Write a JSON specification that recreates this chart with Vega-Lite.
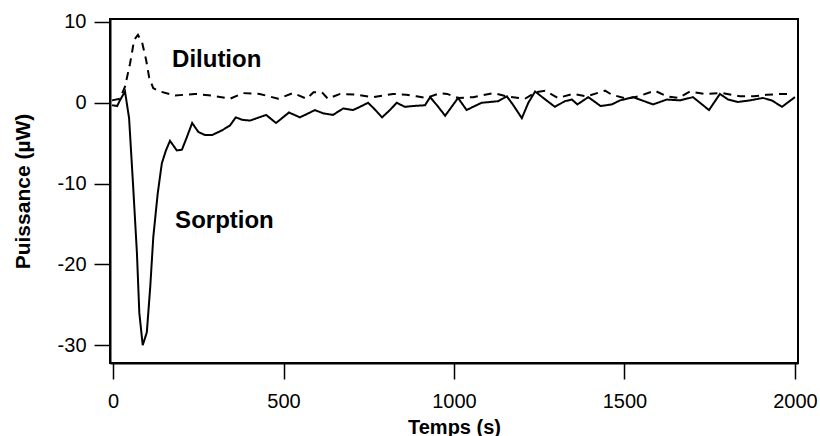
{
  "$schema": "https://vega.github.io/schema/vega-lite/v6.json",
  "autosize": "none",
  "width": 688,
  "height": 344,
  "padding": {"left": 110, "top": 19, "right": 22, "bottom": 73},
  "background": "white",
  "config": {
    "font": "Liberation Sans",
    "view": {"stroke": "black", "strokeWidth": 2},
    "axis": {
      "grid": false,
      "domainColor": "black",
      "domainWidth": 2,
      "tickColor": "black",
      "tickWidth": 1.5,
      "tickSize": 16,
      "labelFont": "Liberation Sans",
      "labelFontSize": 20,
      "labelColor": "black",
      "titleFont": "Liberation Sans",
      "titleFontSize": 20,
      "titleFontWeight": "bold",
      "titleColor": "black"
    }
  },
  "datasets": {
    "curves": [
      {"t": -3, "p": -0.3, "s": "Sorption"},
      {"t": 12, "p": -0.4, "s": "Sorption"},
      {"t": 20, "p": 0.3, "s": "Sorption"},
      {"t": 35, "p": 1.4, "s": "Sorption"},
      {"t": 47, "p": -1.9, "s": "Sorption"},
      {"t": 59, "p": -10.4, "s": "Sorption"},
      {"t": 70, "p": -18.6, "s": "Sorption"},
      {"t": 77, "p": -26, "s": "Sorption"},
      {"t": 87, "p": -30, "s": "Sorption"},
      {"t": 99, "p": -28.4, "s": "Sorption"},
      {"t": 109, "p": -22.8, "s": "Sorption"},
      {"t": 118, "p": -16.6, "s": "Sorption"},
      {"t": 131, "p": -11.2, "s": "Sorption"},
      {"t": 143, "p": -7.5, "s": "Sorption"},
      {"t": 155, "p": -5.9, "s": "Sorption"},
      {"t": 167, "p": -4.7, "s": "Sorption"},
      {"t": 187, "p": -5.9, "s": "Sorption"},
      {"t": 202, "p": -5.8, "s": "Sorption"},
      {"t": 216, "p": -4.3, "s": "Sorption"},
      {"t": 232, "p": -2.5, "s": "Sorption"},
      {"t": 250, "p": -3.6, "s": "Sorption"},
      {"t": 270, "p": -4.0, "s": "Sorption"},
      {"t": 290, "p": -4.0, "s": "Sorption"},
      {"t": 320, "p": -3.4, "s": "Sorption"},
      {"t": 343, "p": -2.8, "s": "Sorption"},
      {"t": 360, "p": -1.8, "s": "Sorption"},
      {"t": 378, "p": -2.1, "s": "Sorption"},
      {"t": 402, "p": -2.2, "s": "Sorption"},
      {"t": 422, "p": -1.9, "s": "Sorption"},
      {"t": 449, "p": -1.5, "s": "Sorption"},
      {"t": 478, "p": -2.5, "s": "Sorption"},
      {"t": 516, "p": -1.2, "s": "Sorption"},
      {"t": 548, "p": -1.8, "s": "Sorption"},
      {"t": 568, "p": -1.4, "s": "Sorption"},
      {"t": 592, "p": -0.9, "s": "Sorption"},
      {"t": 616, "p": -1.3, "s": "Sorption"},
      {"t": 645, "p": -1.5, "s": "Sorption"},
      {"t": 675, "p": -0.7, "s": "Sorption"},
      {"t": 704, "p": -0.9, "s": "Sorption"},
      {"t": 724, "p": -0.5, "s": "Sorption"},
      {"t": 748, "p": 0.0, "s": "Sorption"},
      {"t": 765, "p": -0.7, "s": "Sorption"},
      {"t": 789, "p": -1.8, "s": "Sorption"},
      {"t": 812, "p": -0.9, "s": "Sorption"},
      {"t": 832, "p": 0.0, "s": "Sorption"},
      {"t": 856, "p": -0.5, "s": "Sorption"},
      {"t": 880, "p": -0.4, "s": "Sorption"},
      {"t": 915, "p": -0.3, "s": "Sorption"},
      {"t": 930, "p": 0.7, "s": "Sorption"},
      {"t": 950, "p": -0.3, "s": "Sorption"},
      {"t": 974, "p": -1.6, "s": "Sorption"},
      {"t": 993, "p": -0.5, "s": "Sorption"},
      {"t": 1012, "p": 0.6, "s": "Sorption"},
      {"t": 1037, "p": -0.9, "s": "Sorption"},
      {"t": 1056, "p": -0.5, "s": "Sorption"},
      {"t": 1081, "p": 0.0, "s": "Sorption"},
      {"t": 1105, "p": 0.1, "s": "Sorption"},
      {"t": 1130, "p": 0.2, "s": "Sorption"},
      {"t": 1155, "p": 0.8, "s": "Sorption"},
      {"t": 1174, "p": -0.3, "s": "Sorption"},
      {"t": 1199, "p": -1.9, "s": "Sorption"},
      {"t": 1218, "p": 0.0, "s": "Sorption"},
      {"t": 1238, "p": 1.4, "s": "Sorption"},
      {"t": 1265, "p": 0.5, "s": "Sorption"},
      {"t": 1296, "p": -0.5, "s": "Sorption"},
      {"t": 1325, "p": 0.2, "s": "Sorption"},
      {"t": 1346, "p": 0.4, "s": "Sorption"},
      {"t": 1362, "p": -0.2, "s": "Sorption"},
      {"t": 1394, "p": 0.7, "s": "Sorption"},
      {"t": 1430, "p": -0.4, "s": "Sorption"},
      {"t": 1463, "p": -0.2, "s": "Sorption"},
      {"t": 1487, "p": 0.3, "s": "Sorption"},
      {"t": 1525, "p": 0.7, "s": "Sorption"},
      {"t": 1584, "p": -0.2, "s": "Sorption"},
      {"t": 1624, "p": 0.4, "s": "Sorption"},
      {"t": 1663, "p": 0.3, "s": "Sorption"},
      {"t": 1701, "p": 0.7, "s": "Sorption"},
      {"t": 1748, "p": -0.9, "s": "Sorption"},
      {"t": 1780, "p": 1.1, "s": "Sorption"},
      {"t": 1804, "p": 0.4, "s": "Sorption"},
      {"t": 1833, "p": 0.1, "s": "Sorption"},
      {"t": 1868, "p": 0.3, "s": "Sorption"},
      {"t": 1906, "p": 0.6, "s": "Sorption"},
      {"t": 1932, "p": 0.3, "s": "Sorption"},
      {"t": 1962, "p": -0.5, "s": "Sorption"},
      {"t": 2000, "p": 0.7, "s": "Sorption"},
      {"t": -3, "p": 0.3, "s": "Dilution"},
      {"t": 20, "p": 0.5, "s": "Dilution"},
      {"t": 35, "p": 2.0, "s": "Dilution"},
      {"t": 50, "p": 4.9, "s": "Dilution"},
      {"t": 62, "p": 7.8, "s": "Dilution"},
      {"t": 73, "p": 8.4, "s": "Dilution"},
      {"t": 85, "p": 7.5, "s": "Dilution"},
      {"t": 97, "p": 5.3, "s": "Dilution"},
      {"t": 106, "p": 3.1, "s": "Dilution"},
      {"t": 118, "p": 1.8, "s": "Dilution"},
      {"t": 138, "p": 1.4, "s": "Dilution"},
      {"t": 182, "p": 0.9, "s": "Dilution"},
      {"t": 240, "p": 1.1, "s": "Dilution"},
      {"t": 290, "p": 0.9, "s": "Dilution"},
      {"t": 343, "p": 0.5, "s": "Dilution"},
      {"t": 381, "p": 1.2, "s": "Dilution"},
      {"t": 430, "p": 1.1, "s": "Dilution"},
      {"t": 484, "p": 0.5, "s": "Dilution"},
      {"t": 528, "p": 1.2, "s": "Dilution"},
      {"t": 568, "p": 0.5, "s": "Dilution"},
      {"t": 588, "p": 1.3, "s": "Dilution"},
      {"t": 613, "p": 1.3, "s": "Dilution"},
      {"t": 630, "p": 0.5, "s": "Dilution"},
      {"t": 666, "p": 1.1, "s": "Dilution"},
      {"t": 715, "p": 1.0, "s": "Dilution"},
      {"t": 762, "p": 0.7, "s": "Dilution"},
      {"t": 821, "p": 1.1, "s": "Dilution"},
      {"t": 860, "p": 1.0, "s": "Dilution"},
      {"t": 890, "p": 0.8, "s": "Dilution"},
      {"t": 919, "p": 0.6, "s": "Dilution"},
      {"t": 959, "p": 1.2, "s": "Dilution"},
      {"t": 980, "p": 1.1, "s": "Dilution"},
      {"t": 1012, "p": 0.6, "s": "Dilution"},
      {"t": 1056, "p": 0.7, "s": "Dilution"},
      {"t": 1115, "p": 1.2, "s": "Dilution"},
      {"t": 1155, "p": 0.8, "s": "Dilution"},
      {"t": 1208, "p": 0.5, "s": "Dilution"},
      {"t": 1240, "p": 1.3, "s": "Dilution"},
      {"t": 1267, "p": 1.5, "s": "Dilution"},
      {"t": 1305, "p": 0.6, "s": "Dilution"},
      {"t": 1349, "p": 1.1, "s": "Dilution"},
      {"t": 1390, "p": 0.8, "s": "Dilution"},
      {"t": 1443, "p": 1.5, "s": "Dilution"},
      {"t": 1463, "p": 1.0, "s": "Dilution"},
      {"t": 1507, "p": 0.5, "s": "Dilution"},
      {"t": 1541, "p": 0.8, "s": "Dilution"},
      {"t": 1589, "p": 1.5, "s": "Dilution"},
      {"t": 1624, "p": 0.8, "s": "Dilution"},
      {"t": 1658, "p": 0.6, "s": "Dilution"},
      {"t": 1692, "p": 1.4, "s": "Dilution"},
      {"t": 1736, "p": 1.1, "s": "Dilution"},
      {"t": 1789, "p": 1.2, "s": "Dilution"},
      {"t": 1839, "p": 0.8, "s": "Dilution"},
      {"t": 1878, "p": 0.8, "s": "Dilution"},
      {"t": 1917, "p": 1.0, "s": "Dilution"},
      {"t": 1965, "p": 1.1, "s": "Dilution"},
      {"t": 1994, "p": 1.1, "s": "Dilution"}
    ],
    "labels": [
      {"t": 173, "p": 4.42, "label": "Dilution"},
      {"t": 182, "p": -15.5, "label": "Sorption"}
    ]
  },
  "layer": [
    {
      "data": {"name": "curves"},
      "mark": {"type": "line", "color": "black", "strokeWidth": 2, "clip": true},
      "encoding": {
        "x": {
          "field": "t", "type": "quantitative",
          "scale": {"domain": [-9, 2009], "nice": false, "zero": false},
          "axis": {"values": [0, 500, 1000, 1500, 2000], "labelExpr": "toString(datum.value)", "title": "Temps (s)", "labelPadding": 12, "titlePadding": 6, "labelFlush": false}
        },
        "y": {
          "field": "p", "type": "quantitative",
          "scale": {"domain": [-32.2, 10.37], "nice": false, "zero": false},
          "axis": {"values": [10, 0, -10, -20, -30], "labelExpr": "toString(datum.value)", "title": "Puissance (µW)", "titleFontSize": 21, "labelPadding": 8, "titlePadding": 24}
        },
        "strokeDash": {
          "field": "s", "type": "nominal",
          "scale": {"domain": ["Sorption", "Dilution"], "range": [[1, 0], [8, 6]]},
          "legend": null
        },
        "detail": {"field": "s"}
      }
    },
    {
      "data": {"name": "labels"},
      "mark": {"type": "text", "align": "left", "baseline": "alphabetic", "fontSize": 24, "fontWeight": "bold", "font": "Liberation Sans", "color": "black"},
      "encoding": {
        "x": {"field": "t", "type": "quantitative"},
        "y": {"field": "p", "type": "quantitative"},
        "text": {"field": "label"}
      }
    }
  ]
}
